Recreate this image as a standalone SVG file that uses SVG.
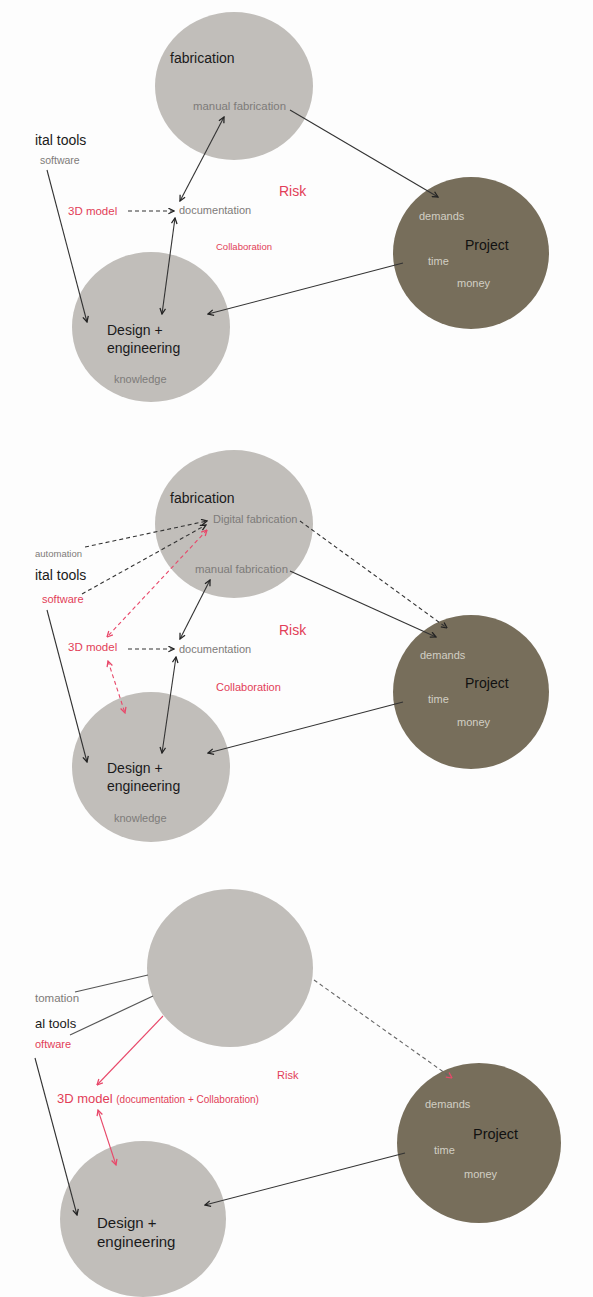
<svg xmlns="http://www.w3.org/2000/svg" width="593" height="1297" viewBox="0 0 593 1297">
<defs>
<style>
.t{font-family:"Liberation Sans",Arial,sans-serif}
.big{font-size:14px;fill:#1a1a1a}
.sm{font-size:10.5px;fill:#7d7b79}
.lt{font-size:11px;fill:#d2cec4}
.red{fill:#e23e58}
.gc{fill:#c1beba}
.pc{fill:#776e5b}
.ln{stroke:#333;stroke-width:1.1;fill:none}
.dl{stroke:#333;stroke-width:1.1;fill:none;stroke-dasharray:4 3}
.rl{stroke:#e8486a;stroke-width:1.1;fill:none}
.rd{stroke:#e8486a;stroke-width:1.1;fill:none;stroke-dasharray:4 3}
.gl{stroke:#555;stroke-width:1.2;fill:none}
</style>
<marker id="ah" viewBox="0 0 10 10" refX="9" refY="5" markerWidth="7" markerHeight="7" orient="auto-start-reverse" markerUnits="userSpaceOnUse">
<path d="M1,1 L9,5 L1,9" fill="none" stroke="#222" stroke-width="1.8"/>
</marker>
<marker id="rh" viewBox="0 0 10 10" refX="9" refY="5" markerWidth="7" markerHeight="7" orient="auto-start-reverse" markerUnits="userSpaceOnUse">
<path d="M1,1 L9,5 L1,9" fill="none" stroke="#e8486a" stroke-width="1.8"/>
</marker>
</defs>
<rect width="593" height="1297" fill="#fdfdfd"/>

<!-- Panel 1 -->
<g id="p1-fabrication">
<ellipse class="gc" cx="234" cy="86" rx="79" ry="74"/>
<text class="t big" x="170" y="63">fabrication</text>
<text class="t sm" x="193" y="110" textLength="93" lengthAdjust="spacingAndGlyphs">manual fabrication</text>
</g>
<g id="p1-design">
<ellipse class="gc" cx="151" cy="327" rx="79" ry="75"/>
<text class="t big" x="107" y="335">Design +</text>
<text class="t big" x="107" y="353">engineering</text>
<text class="t sm" x="114" y="383" style="font-size:11px">knowledge</text>
</g>
<g id="p1-project">
<ellipse class="pc" cx="471" cy="253" rx="78" ry="76"/>
<text class="t big" x="465" y="250" style="fill:#111">Project</text>
<text class="t lt" x="419" y="220">demands</text>
<text class="t lt" x="428" y="265">time</text>
<text class="t lt" x="457" y="287">money</text>
</g>
<g id="p1-labels">
<text class="t big" x="35" y="145" style="font-size:14px">ital tools</text>
<text class="t sm" x="40" y="164">software</text>
<text class="t red" x="68" y="215" style="font-size:11.5px">3D model</text>
<text class="t sm" x="179" y="214" style="font-size:11px">documentation</text>
<text class="t red" x="279" y="196" style="font-size:14px">Risk</text>
<text class="t red" x="216" y="250" style="font-size:9.5px">Collaboration</text>
</g>
<g id="p1-connectors">
<line class="ln" x1="224" y1="117" x2="180" y2="201" marker-start="url(#ah)" marker-end="url(#ah)"/>
<line class="ln" x1="175" y1="218" x2="162" y2="314" marker-start="url(#ah)" marker-end="url(#ah)"/>
<line class="dl" x1="128" y1="211" x2="174" y2="211" marker-end="url(#ah)"/>
<line class="ln" x1="47" y1="170" x2="87" y2="322" marker-end="url(#ah)"/>
<line class="ln" x1="403" y1="263" x2="208" y2="314" marker-end="url(#ah)"/>
<line class="ln" x1="290" y1="110" x2="438" y2="197" marker-end="url(#ah)"/>
</g>

<!-- Panel 2 -->
<g id="p2-fabrication">
<ellipse class="gc" cx="234" cy="524" rx="79" ry="74"/>
<text class="t big" x="170" y="503">fabrication</text>
<text class="t sm" x="213" y="523" style="font-size:11px">Digital fabrication</text>
<text class="t sm" x="195" y="573" textLength="93" lengthAdjust="spacingAndGlyphs">manual fabrication</text>
</g>
<g id="p2-design">
<ellipse class="gc" cx="151" cy="767" rx="79" ry="75"/>
<text class="t big" x="107" y="773">Design +</text>
<text class="t big" x="107" y="791">engineering</text>
<text class="t sm" x="114" y="822" style="font-size:11px">knowledge</text>
</g>
<g id="p2-project">
<ellipse class="pc" cx="471" cy="692" rx="78" ry="77"/>
<text class="t big" x="465" y="688" style="fill:#111">Project</text>
<text class="t lt" x="420" y="659">demands</text>
<text class="t lt" x="428" y="703">time</text>
<text class="t lt" x="457" y="726">money</text>
</g>
<g id="p2-labels">
<text class="t sm" x="35" y="557" style="font-size:9.5px">automation</text>
<text class="t big" x="35" y="580" style="font-size:14px">ital tools</text>
<text class="t red" x="42" y="603" style="font-size:11px">software</text>
<text class="t red" x="68" y="651" style="font-size:11.5px">3D model</text>
<text class="t sm" x="179" y="653" style="font-size:11px">documentation</text>
<text class="t red" x="279" y="635" style="font-size:14px">Risk</text>
<text class="t red" x="216" y="691" style="font-size:11px">Collaboration</text>
</g>
<g id="p2-connectors">
<line class="dl" x1="85" y1="547" x2="207" y2="521" marker-end="url(#ah)"/>
<line class="dl" x1="82" y1="594" x2="206" y2="525" marker-end="url(#ah)"/>
<line class="rd" x1="207" y1="530" x2="107" y2="637" marker-start="url(#rh)" marker-end="url(#rh)"/>
<line class="ln" x1="210" y1="580" x2="180" y2="639" marker-start="url(#ah)" marker-end="url(#ah)"/>
<line class="dl" x1="128" y1="649" x2="174" y2="649" marker-end="url(#ah)"/>
<line class="ln" x1="176" y1="657" x2="162" y2="753" marker-start="url(#ah)" marker-end="url(#ah)"/>
<line class="rd" x1="108" y1="661" x2="125" y2="713" marker-start="url(#rh)" marker-end="url(#rh)"/>
<line class="ln" x1="47" y1="610" x2="87" y2="762" marker-end="url(#ah)"/>
<line class="ln" x1="403" y1="702" x2="208" y2="753" marker-end="url(#ah)"/>
<line class="ln" x1="290" y1="571" x2="436" y2="637" marker-end="url(#ah)"/>
<line class="dl" x1="300" y1="521" x2="447" y2="628" marker-end="url(#ah)"/>
</g>

<!-- Panel 3 -->
<g id="p3-fabrication">
<ellipse class="gc" cx="230" cy="968" rx="83" ry="79"/>
</g>
<g id="p3-design">
<ellipse class="gc" cx="143" cy="1219" rx="83" ry="78"/>
<text class="t big" x="97" y="1228" style="font-size:15px">Design +</text>
<text class="t big" x="97" y="1247" style="font-size:15px">engineering</text>
</g>
<g id="p3-project">
<ellipse class="pc" cx="479" cy="1143" rx="82" ry="80"/>
<text class="t big" x="473" y="1139" style="fill:#111;font-size:14.5px">Project</text>
<text class="t lt" x="425" y="1108">demands</text>
<text class="t lt" x="434" y="1154">time</text>
<text class="t lt" x="464" y="1178">money</text>
</g>
<g id="p3-labels">
<text class="t sm" x="35" y="1002" style="font-size:11.5px">tomation</text>
<text class="t big" x="35" y="1028" style="font-size:13px">al tools</text>
<text class="t red" x="35" y="1048" style="font-size:11px">oftware</text>
<text class="t red" x="57" y="1103" style="font-size:13px">3D model <tspan style="font-size:10px">(documentation + Collaboration)</tspan></text>
<text class="t red" x="277" y="1079" style="font-size:11px">Risk</text>
</g>
<g id="p3-connectors">
<line class="gl" x1="75" y1="992" x2="148" y2="975"/>
<line class="gl" x1="70" y1="1035" x2="153" y2="996"/>
<line class="rl" x1="163" y1="1016" x2="97" y2="1085" marker-end="url(#rh)"/>
<line class="rl" x1="98" y1="1110" x2="116" y2="1165" marker-start="url(#rh)" marker-end="url(#rh)"/>
<line class="ln" x1="35" y1="1058" x2="77" y2="1215" marker-end="url(#ah)"/>
<line class="dl" x1="314" y1="980" x2="452" y2="1078" style="stroke:#666" marker-end="url(#rh)"/>
<line class="ln" x1="405" y1="1153" x2="205" y2="1205" marker-end="url(#ah)"/>
</g>
</svg>
